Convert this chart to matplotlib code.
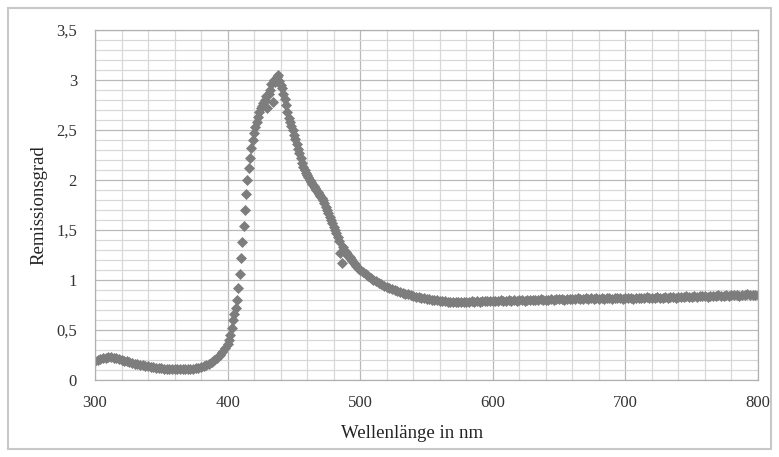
import matplotlib.pyplot as plt
import matplotlib.patches as patches
from matplotlib.ticker import MultipleLocator, FixedLocator
import numpy as np

plt.rcParams['font.family'] = ['Liberation Serif', 'DejaVu Serif']

# Messpunkte: 300-398 nm (2 nm), 400-500 nm (1 nm), 502-800 nm (2 nm)
wl_a = np.arange(300, 400, 2)
rem_a = [0.19, 0.20, 0.21, 0.22, 0.225, 0.23, 0.23, 0.225, 0.22, 0.21,
         0.20, 0.195, 0.19, 0.18, 0.175, 0.165, 0.16, 0.155, 0.15, 0.145,
         0.14, 0.135, 0.13, 0.125, 0.12, 0.118, 0.115, 0.112, 0.11, 0.108,
         0.107, 0.106, 0.106, 0.107, 0.108, 0.11, 0.112, 0.115, 0.12, 0.125,
         0.13, 0.14, 0.15, 0.165, 0.18, 0.20, 0.22, 0.25, 0.28, 0.32]

wl_b = np.arange(400, 501)
rem_b = [0.36, 0.40, 0.45, 0.52, 0.60, 0.66, 0.72, 0.80, 0.92, 1.06,
         1.22, 1.38, 1.54, 1.70, 1.86, 2.00, 2.12, 2.22, 2.32, 2.40,
         2.47, 2.53, 2.58, 2.63, 2.68, 2.72, 2.74, 2.77, 2.80, 2.84,
         2.72, 2.86, 2.90, 2.96, 2.78, 3.00, 2.98, 3.03, 3.05, 2.99,
         2.95, 2.92, 2.86, 2.81, 2.75, 2.68, 2.62, 2.58, 2.54, 2.50,
         2.45, 2.41, 2.36, 2.31, 2.27, 2.22, 2.17, 2.13, 2.10, 2.07,
         2.05, 2.03, 2.00, 1.98, 1.96, 1.94, 1.92, 1.90, 1.88, 1.86,
         1.84, 1.82, 1.80, 1.77, 1.73, 1.70, 1.67, 1.63, 1.60, 1.57,
         1.53, 1.50, 1.47, 1.43, 1.39, 1.27, 1.17, 1.33, 1.30, 1.28,
         1.26, 1.24, 1.23, 1.21, 1.19, 1.17, 1.16, 1.14, 1.12, 1.11,
         1.10]

wl_c = np.arange(502, 801, 2)
rem_c = [1.08, 1.06, 1.04, 1.02, 1.00, 0.99, 0.97, 0.96, 0.945, 0.93,
         0.92, 0.91, 0.90, 0.89, 0.88, 0.875, 0.865, 0.86, 0.85, 0.845,
         0.835, 0.83, 0.825, 0.82, 0.815, 0.81, 0.805, 0.80, 0.80, 0.795,
         0.79, 0.79, 0.785, 0.785, 0.78, 0.785, 0.78, 0.78, 0.785, 0.78,
         0.785, 0.79, 0.785, 0.79, 0.785, 0.79, 0.795, 0.79, 0.795, 0.79,
         0.795, 0.79, 0.80, 0.795, 0.79, 0.80, 0.795, 0.80, 0.795, 0.80,
         0.80, 0.795, 0.805, 0.80, 0.80, 0.805, 0.80, 0.81, 0.805, 0.80,
         0.805, 0.81, 0.805, 0.81, 0.815, 0.81, 0.805, 0.815, 0.81, 0.815,
         0.815, 0.82, 0.81, 0.815, 0.82, 0.815, 0.82, 0.815, 0.82, 0.815,
         0.82, 0.815, 0.825, 0.82, 0.815, 0.82, 0.825, 0.82, 0.815, 0.82,
         0.825, 0.82, 0.815, 0.825, 0.82, 0.825, 0.82, 0.83, 0.825, 0.82,
         0.825, 0.83, 0.825, 0.82, 0.83, 0.825, 0.835, 0.83, 0.825, 0.83,
         0.835, 0.83, 0.84, 0.835, 0.83, 0.84, 0.835, 0.84, 0.845, 0.84,
         0.835, 0.845, 0.84, 0.845, 0.85, 0.84, 0.845, 0.85, 0.845, 0.85,
         0.855, 0.85, 0.845, 0.855, 0.85, 0.86, 0.855, 0.85, 0.855, 0.85]

wavelength = np.concatenate([wl_a, wl_b, wl_c])
remission = np.concatenate([rem_a, rem_b, rem_c])

y_ticks = [0, 0.5, 1, 1.5, 2, 2.5, 3, 3.5]
y_labels = ['0', '0,5', '1', '1,5', '2', '2,5', '3', '3,5']
x_ticks = [300, 400, 500, 600, 700, 800]

fig = plt.figure(figsize=(7.79, 4.57), dpi=100)
ax = fig.add_axes([95 / 779, 1 - 380 / 457, 663 / 779, 350 / 457])

ax.plot(wavelength, remission, linestyle='none', marker='D', markersize=5.6,
        color='#7d7d7d', markeredgecolor='#7d7d7d', markeredgewidth=0.5)

ax.set_xlim(300, 800)
ax.set_ylim(0, 3.5)
ax.xaxis.set_major_locator(FixedLocator(x_ticks))
ax.xaxis.set_minor_locator(MultipleLocator(20))
ax.yaxis.set_major_locator(FixedLocator(y_ticks))
ax.yaxis.set_minor_locator(MultipleLocator(0.1))
ax.set_yticklabels(y_labels)

ax.grid(which='major', color='#b9b9b9', linewidth=0.9)
ax.grid(which='minor', color='#d8d8d8', linewidth=0.9)
ax.set_axisbelow(True)
for s in ax.spines.values():
    s.set_color('#b0b0b0')
    s.set_linewidth(0.9)

ax.tick_params(which='both', length=0)
ax.tick_params(axis='y', pad=13, labelsize=12, colors='#333333')
ax.tick_params(axis='x', pad=11, labelsize=12, colors='#333333')

ax.set_xlabel('Wellenlänge in nm', fontsize=13.5, color='#222222')
ax.xaxis.set_label_coords((412 - 95) / 663, -0.13)
ax.set_ylabel('Remissionsgrad', fontsize=13.5, color='#222222')
ax.yaxis.set_label_coords(-0.072, 0.5)

# Rahmen um das Diagramm
fig.patches.append(patches.Rectangle((8 / 779, 8 / 457), 763 / 779, 441 / 457,
                                     transform=fig.transFigure, fill=False,
                                     edgecolor='#c8c8c8', linewidth=1.5))

fig.savefig('out.png', dpi=100)
